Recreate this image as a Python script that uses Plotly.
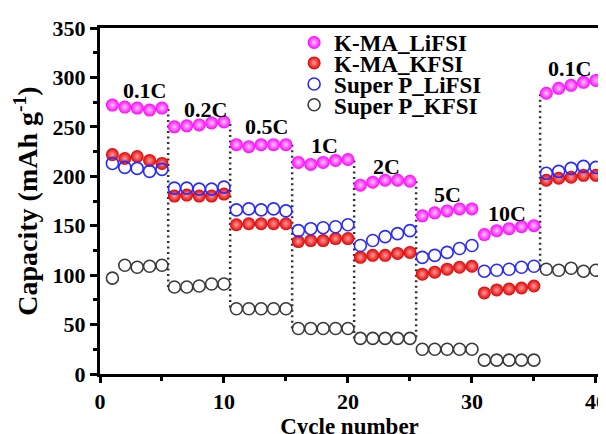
import plotly.graph_objects as go

cycles = list(range(1, 41))
kma_lifsi = [272, 270, 269, 267, 269, 250, 251, 252, 254, 255, 232, 230, 232, 232, 232,
             214, 212, 214, 216, 217, 191, 194, 196, 196, 195, 160, 163, 165, 167, 167,
             141, 145, 147, 149, 150, 284, 289, 292, 295, 297]
kma_kfsi = [222, 218, 220, 216, 213, 180, 181, 180, 180, 182, 151, 152, 152, 152, 152,
            134, 135, 135, 137, 137, 118, 120, 120, 122, 123, 101, 103, 106, 108, 109,
            82, 85, 86, 87, 89, 196, 198, 199, 201, 201]
sp_lifsi = [213, 209, 208, 205, 207, 188, 188, 187, 187, 189, 166, 167, 166, 167, 165,
            145, 147, 148, 149, 151, 130, 135, 139, 142, 145, 118, 120, 123, 127, 130,
            104, 105, 106, 108, 109, 203, 205, 208, 210, 209]
sp_kfsi = [97, 110, 108, 109, 110, 88, 88, 89, 91, 91, 66, 66, 66, 66, 66,
           46, 46, 46, 46, 46, 36, 36, 36, 36, 36, 25, 25, 25, 25, 25,
           14, 14, 14, 14, 14, 106, 105, 107, 104, 105]

series_names = ["K-MA_LiFSI", "K-MA_KFSI", "Super P_LiFSI", "Super P_KFSI"]

rate_labels = ["0.1C", "0.2C", "0.5C", "1C", "2C", "5C", "10C", "0.1C"]
rate_x = [3.6, 8.5, 13.4, 18.1, 23.1, 28.0, 32.8, 37.9]
rate_y = [287, 268, 250, 231, 210, 182, 162, 309]

divider_x = [5.5, 10.5, 15.5, 20.5, 25.5, 35.5]
divider_top = [268, 253, 232, 216, 195, 283]
divider_bottom = [88, 66, 46, 36, 36, 106]

FONT = "Liberation Serif"

fig = go.Figure()

# dotted dividers
dx, dy = [], []
for x, t, b in zip(divider_x, divider_top, divider_bottom):
    dx += [x, x, None]
    dy += [t, b, None]
fig.add_trace(go.Scatter(x=dx, y=dy, mode="lines", showlegend=False, hoverinfo="skip",
                         line=dict(color="#333333", width=2.5, dash="2px,3.5px")))

markers = [
    dict(symbol="circle", size=13, color="#ff00ff",
         gradient=dict(type="radial", color="#ffc8ff"), line=dict(width=0)),
    dict(symbol="circle", size=13, color="#e00000",
         gradient=dict(type="radial", color="#ff9a9a"), line=dict(width=0)),
    dict(symbol="circle-open", size=12, color="#2a2aff",
         line=dict(width=1.6, color="#2a2aff")),
    dict(symbol="circle-open", size=12, color="#3a3a3a",
         line=dict(width=1.6, color="#3a3a3a")),
]
legend_ids = ["legend", "legend2", "legend3", "legend4"]
for name, vals, mk, lg in zip(series_names, [kma_lifsi, kma_kfsi, sp_lifsi, sp_kfsi],
                               markers, legend_ids):
    fig.add_trace(go.Scatter(x=cycles, y=vals, mode="markers", name=name,
                             marker=mk, legend=lg))

for t, x, y in zip(rate_labels, rate_x, rate_y):
    fig.add_annotation(x=x, y=y, text=t, showarrow=False,
                       font=dict(family=FONT, size=22, color="black", weight="bold"))

leg_font = dict(family=FONT, size=23, color="black", weight="bold")
leg_y = [0.958, 0.899, 0.838, 0.778]
legends = {}
for lg, yy in zip(legend_ids, leg_y):
    legends[lg] = dict(x=0.389, y=yy, xanchor="left", yanchor="middle",
                       bgcolor="rgba(0,0,0,0)", borderwidth=0, font=leg_font)

fig.update_layout(
    width=606, height=434,
    margin=dict(l=92, r=7, t=20, b=59),
    paper_bgcolor="white", plot_bgcolor="white",
    font=dict(family=FONT, size=22, color="black", weight="bold"),
    showlegend=True,
    **legends,
    xaxis=dict(range=[0, 40.25], tickvals=[0, 10, 20, 30, 40],
               showgrid=False, zeroline=False,
               showline=True, linewidth=3, linecolor="black", mirror=True,
               ticks="outside", ticklen=6, tickwidth=3, tickcolor="black",
               minor=dict(tickvals=[5, 15, 25, 35], ticks="outside", ticklen=4,
                          tickwidth=3, tickcolor="black"),
               title=dict(text="Cycle number", standoff=4,
                          font=dict(family=FONT, size=23, weight="bold")),
               tickfont=dict(family=FONT, size=22, weight="bold")),
    yaxis=dict(range=[0, 350], tickvals=[0, 50, 100, 150, 200, 250, 300, 350],
               showgrid=False, zeroline=False,
               showline=True, linewidth=3, linecolor="black", mirror=True,
               ticks="outside", ticklen=7, tickwidth=3, tickcolor="black",
               minor=dict(tickvals=[25, 75, 125, 175, 225, 275, 325], ticks="outside",
                          ticklen=4, tickwidth=3, tickcolor="black"),
               title=dict(text="Capacity (mAh g<sup>-1</sup>)", standoff=7,
                          font=dict(family=FONT, size=28, weight="bold")),
               tickfont=dict(family=FONT, size=22, weight="bold")),
)

fig.write_html("out.html")
